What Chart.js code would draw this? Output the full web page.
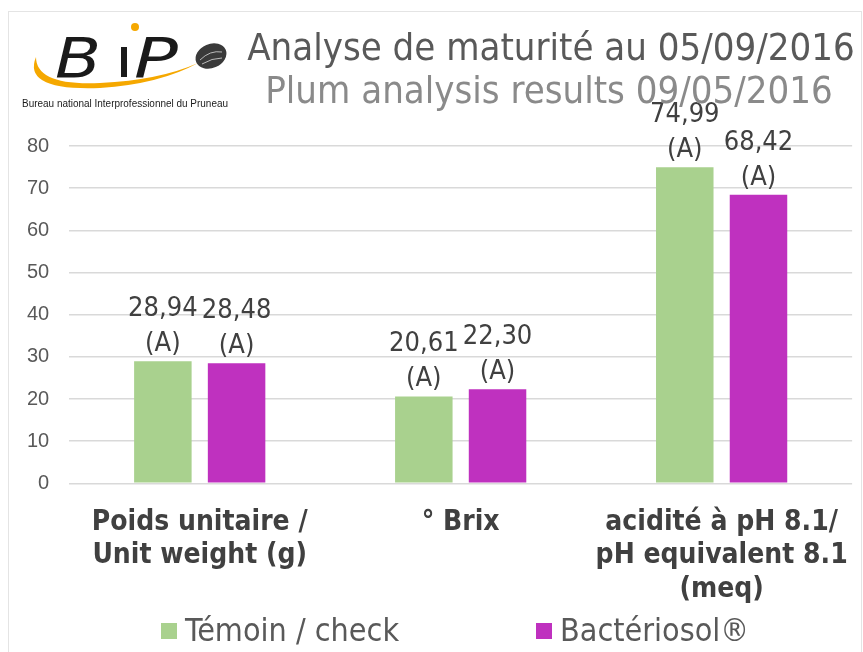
<!DOCTYPE html>
<html lang="fr">

<head>
    <meta charset="UTF-8">
    <title>Analyse de maturité</title>
    <style>
        html, body { margin: 0; padding: 0; background: #fff; }
        #wrap { position: relative; width: 863px; height: 652px; }
        #frame { position: absolute; left: 8px; top: 11px; width: 852px; height: 650px; border: 1px solid #e4e4e4; border-bottom: none; pointer-events: none; }
    </style>
</head>

<body>
    <div id="wrap">
        <canvas id="myChart" width="863" height="652"></canvas>
        <div id="frame"></div>
    </div>

    <script src="https://cdn.jsdelivr.net/npm/chart.js"></script>
    <script>
        // chart data
        const categories = [
            ["Poids unitaire /", "Unit weight (g)"],
            ["° Brix"],
            ["acidité à pH 8.1/", "pH equivalent 8.1", "(meq)"]
        ];
        const seriesNames = ["Témoin / check", "Bactériosol®"];
        const temoin = [28.94, 20.61, 74.99];
        const bacteriosol = [28.48, 22.30, 68.42];
        const temoinLetters = ["(A)", "(A)", "(A)"];
        const bacteriosolLetters = ["(A)", "(A)", "(A)"];
        const yMin = 0, yMax = 80, yStep = 10;

        const titleLine1 = "Analyse de maturité au 05/09/2016";
        const titleLine2 = "Plum analysis results 09/05/2016";

        const colGreen = "#a9d18e";
        const colPurple = "#bf31bf";
        const condensed = "'DejaVu Sans Condensed', 'DejaVu Sans'";

        // value + letter above each bar
        const barLabels = {
            id: 'barLabels',
            afterDatasetsDraw(chart) {
                const c = chart.ctx;
                const letters = [temoinLetters, bacteriosolLetters];
                c.save();
                c.fillStyle = "#404040";
                c.font = "27px " + condensed;
                c.textAlign = "center";
                c.textBaseline = "alphabetic";
                chart.data.datasets.forEach((ds, i) => {
                    chart.getDatasetMeta(i).data.forEach((bar, k) => {
                        const txt = ds.data[k].toFixed(2).replace(".", ",");
                        c.fillText(letters[i][k], bar.x, bar.y - 10);
                        c.fillText(txt, bar.x, bar.y - 45);
                    });
                });
                c.restore();
            }
        };

        function logoLetter(c, ch, x, y, sx) {
            c.save();
            c.translate(x, y);
            c.scale(sx, 1);
            c.fillText(ch, 0, 0);
            c.restore();
        }

        // title, logo and legend
        const decor = {
            id: 'decor',
            afterDraw(chart) {
                const c = chart.ctx;
                c.save();
                c.textAlign = "center";
                c.textBaseline = "alphabetic";
                c.fillStyle = "#595959";
                c.font = "38px " + condensed;
                c.fillText(titleLine1, 551, 60);
                c.fillStyle = "#8a8a8a";
                c.font = "38px " + condensed;
                c.fillText(titleLine2, 549, 103);

                // logo swoosh
                c.fillStyle = "#f5a800";
                c.beginPath();
                c.moveTo(36, 57);
                c.quadraticCurveTo(22, 91, 100, 88);
                c.quadraticCurveTo(160, 84, 198, 63);
                c.quadraticCurveTo(160, 80, 100, 83);
                c.quadraticCurveTo(36, 86, 36, 57);
                c.fill();
                c.beginPath();
                c.arc(135, 27, 4, 0, Math.PI * 2);
                c.fill();
                // logo letters
                c.fillStyle = "#1a1a1a";
                c.font = "italic 56px 'DejaVu Sans'";
                c.textAlign = "left";
                logoLetter(c, "B", 55, 77, 1.2);
                c.fillRect(121, 47, 6, 30);
                logoLetter(c, "P", 134, 77, 1.3);
                // prune
                c.fillStyle = "#3a3a3a";
                c.beginPath();
                c.ellipse(211, 56, 16, 12, -0.4, 0, Math.PI * 2);
                c.fill();
                c.strokeStyle = "#bbbbbb";
                c.lineWidth = 1;
                c.beginPath();
                c.moveTo(200, 60); c.quadraticCurveTo(210, 50, 222, 52);
                c.moveTo(202, 64); c.quadraticCurveTo(212, 58, 222, 58);
                c.stroke();
                // small caption, squeezed to the logo width
                c.fillStyle = "#1a1a1a";
                c.font = "11px 'Liberation Sans'";
                const cap = "Bureau national Interprofessionnel du Pruneau";
                const w = c.measureText(cap).width;
                c.save();
                c.translate(22, 107);
                c.scale(206 / w, 1);
                c.fillText(cap, 0, 0);
                c.restore();

                // legend
                const items = [
                    { x: 161, label: seriesNames[0], color: colGreen },
                    { x: 536, label: seriesNames[1], color: colPurple }
                ];
                c.font = "32px " + condensed;
                items.forEach(it => {
                    c.fillStyle = it.color;
                    c.fillRect(it.x, 623, 16, 16);
                    c.fillStyle = "#595959";
                    c.fillText(it.label, it.x + 24, 641);
                });
                c.restore();
            }
        };

        const ctx = document.getElementById('myChart');
        new Chart(ctx, {
            type: 'bar',
            data: {
                labels: categories,
                datasets: [{
                    label: seriesNames[0],
                    data: temoin,
                    backgroundColor: colGreen,
                    borderWidth: 0
                }, {
                    label: seriesNames[1],
                    data: bacteriosol,
                    backgroundColor: colPurple,
                    borderWidth: 0
                }]
            },
            options: {
                responsive: false,
                animation: false,
                categoryPercentage: 0.565,
                barPercentage: 0.78,
                layout: {
                    padding: { top: 146, bottom: 31, left: 7, right: 8 }
                },
                scales: {
                    x: {
                        grid: { display: false },
                        border: { display: false },
                        ticks: {
                            color: "#404040",
                            font: { family: condensed, size: 28, weight: 'bold', lineHeight: 1.21 },
                            maxRotation: 0,
                            autoSkip: false,
                            padding: 14
                        }
                    },
                    y: {
                        min: yMin,
                        max: yMax,
                        grid: { color: "#d9d9d9", drawTicks: false, lineWidth: 1.5 },
                        border: { display: false },
                        ticks: {
                            stepSize: yStep,
                            color: "#595959",
                            font: { family: "'Liberation Sans'", size: 20 },
                            padding: 20
                        }
                    }
                },
                plugins: {
                    legend: { display: false },
                    tooltip: { enabled: false }
                }
            },
            plugins: [barLabels, decor]
        });
    </script>
</body>

</html>
